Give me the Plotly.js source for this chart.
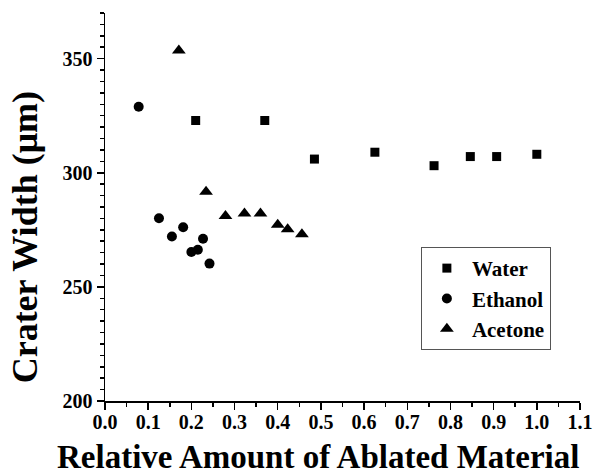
<!DOCTYPE html>
<html>
<head>
<meta charset="utf-8">
<script src="https://cdn.plot.ly/plotly-3.0.1.min.js"></script>
<style>html,body{margin:0;padding:0;background:#fff;}#chart{width:595px;height:475px;}</style>
</head>
<body>
<div id="chart"></div>
<script>
const waterX = [0.21, 0.37, 0.485, 0.625, 0.762, 0.846, 0.907, 1.0];
const waterY = [322.9, 322.9, 306.0, 309.0, 303.1, 307.1, 307.1, 308.1];
const ethanolX = [0.078, 0.125, 0.155, 0.181, 0.200, 0.215, 0.227, 0.242];
const ethanolY = [328.9, 280.1, 272.1, 276.1, 265.3, 266.3, 271.1, 260.2];
const acetoneX = [0.171, 0.234, 0.279, 0.323, 0.360, 0.400, 0.423, 0.456];
const acetoneY = [353.6, 291.7, 281.1, 282.1, 282.1, 277.2, 275.2, 273.1];
const xTitle = 'Relative Amount of Ablated Material';
const yTitle = 'Crater Width (μm)';

const FONT = "'Liberation Serif', 'Times New Roman', serif";

const traces = [
  {x: waterX, y: waterY, name: 'Water', mode: 'markers', type: 'scatter',
   marker: {symbol: 'square', size: 9, color: '#000'}},
  {x: ethanolX, y: ethanolY, name: 'Ethanol', mode: 'markers', type: 'scatter',
   marker: {symbol: 'circle', size: 10, color: '#000'}},
  {x: acetoneX, y: acetoneY, name: 'Acetone', mode: 'markers', type: 'scatter',
   marker: {symbol: 'triangle-up', size: 12, color: '#000'}}
];

const axisCommon = {
  showline: true, linecolor: '#000', linewidth: 1.5,
  showgrid: false, zeroline: false,
  ticks: 'outside', ticklen: 7, tickwidth: 1.5, tickcolor: '#000',
  tickfont: {family: FONT, size: 20, weight: 'bold', color: '#000'},
  automargin: false
};

const layout = {
  width: 595, height: 475,
  margin: {l: 105, r: 15, t: 13, b: 74},
  paper_bgcolor: '#fff', plot_bgcolor: '#fff',
  font: {family: FONT, color: '#000'},
  showlegend: true,
  xaxis: Object.assign({}, axisCommon, {
    range: [0, 1.1], dtick: 0.1, tick0: 0, tickformat: '.1f',
    ticklabelstandoff: -5,
    minor: {dtick: 0.05, ticks: 'outside', ticklen: 4, tickwidth: 1.5, tickcolor: '#000', showgrid: false}
  }),
  yaxis: Object.assign({}, axisCommon, {
    range: [200, 370], dtick: 50, tick0: 200,
    minor: {dtick: 5, ticks: 'outside', ticklen: 4, tickwidth: 1.5, tickcolor: '#000', showgrid: false}
  }),
  legend: {
    x: 0.665, y: 0.397, xanchor: 'left', yanchor: 'top',
    bgcolor: '#fff', bordercolor: '#555', borderwidth: 1,
    itemwidth: 40,
    font: {family: FONT, size: 21, weight: 'bold', color: '#000'},
    tracegroupgap: 0
  },
  annotations: [
    {text: xTitle, xref: 'paper', yref: 'paper', x: 0.448, y: -0.144,
     xanchor: 'center', yanchor: 'middle', showarrow: false,
     font: {family: FONT, size: 33, weight: 'bold', color: '#000'}},
    {text: yTitle, xref: 'paper', yref: 'paper', x: -0.168, y: 0.4223,
     xanchor: 'center', yanchor: 'middle', showarrow: false, textangle: -90,
     font: {family: FONT, size: 36, weight: 'bold', color: '#000'}}
  ]
};

Plotly.newPlot('chart', traces, layout, {displayModeBar: false, staticPlot: true});
</script>
</body>
</html>
